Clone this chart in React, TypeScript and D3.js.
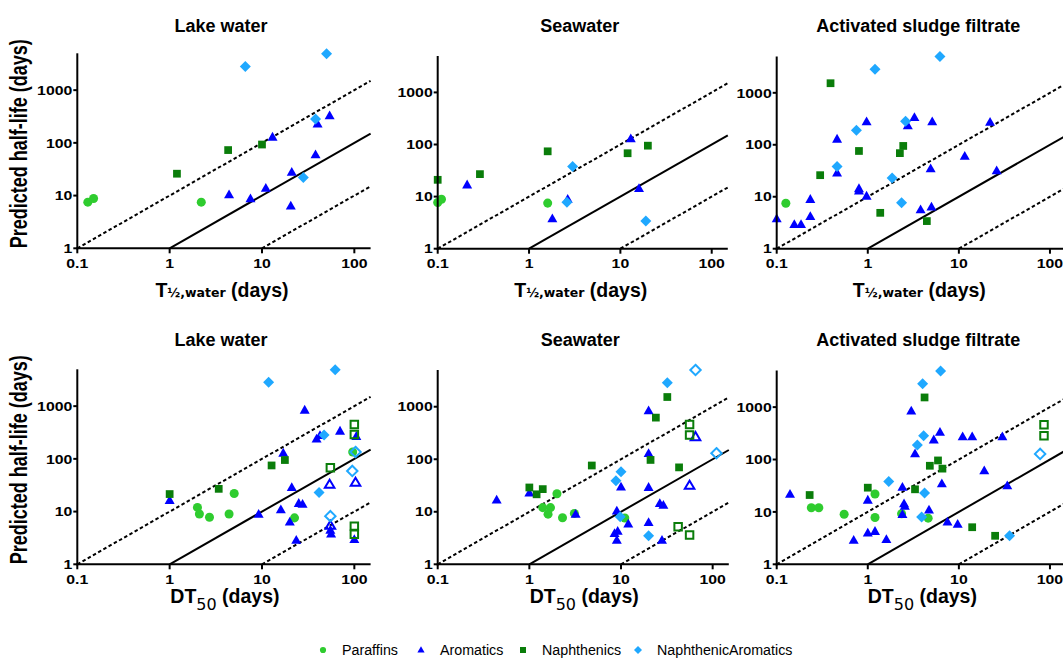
import React from 'react';
import * as d3 from 'd3';

type Pt = [number, number];

// tick values shared by all panels
const xTicks = [0.1, 1, 10, 100];
const yTicks = [1, 10, 100, 1000];
const xDomain: Pt = [0.1, 150];
const yDomain: Pt = [1, 5000];

const seriesNames = ['Paraffins', 'Aromatics', 'Naphthenics', 'NaphthenicAromatics'];
const seriesColors = ['#2fcc2f', '#0000ff', '#0a7d0a', '#1fa8ff'];

// ---- top row: T½,water (days)
const lakeT_paraffins: Pt[] = [[0.13, 7.5], [0.15, 8.8], [2.2, 7.5]];
const lakeT_aromatics: Pt[] = [[4.4, 10.5], [7.5, 8.8], [11, 14], [13, 130], [20.5, 6.4], [21, 28], [38, 60], [40, 230], [54, 330]];
const lakeT_naphthenics: Pt[] = [[1.2, 26], [4.3, 73], [10, 93]];
const lakeT_naphArom: Pt[] = [[6.6, 2800], [50, 4900], [38, 285], [28, 22]];

const seaT_paraffins: Pt[] = [[0.1, 7.7], [0.11, 8.9], [1.6, 7.5]];
const seaT_aromatics: Pt[] = [[0.21, 17], [1.8, 3.8], [2.65, 9], [13, 130], [16, 14.5]];
const seaT_naphthenics: Pt[] = [[0.1, 21], [0.29, 27], [1.6, 74], [12, 68], [20, 95]];
const seaT_naphArom: Pt[] = [[3, 38], [2.6, 7.8], [19, 3.4]];

const sludgeT_paraffins: Pt[] = [[0.126, 7.5]];
const sludgeT_aromatics: Pt[] = [
  [0.1, 3.8], [0.156, 2.95], [0.185, 2.95], [0.234, 4.2], [0.234, 9], [0.46, 130], [0.46, 29],
  [0.8, 14.5], [0.8, 13], [0.97, 10.4], [0.97, 280], [2.75, 235], [3.25, 340], [3.8, 5.7],
  [4.9, 35], [5.0, 6.4], [5.1, 280], [11.6, 61], [22, 275], [26, 32],
];
const sludgeT_naphthenics: Pt[] = [[0.39, 1530], [0.3, 26], [0.8, 76], [1.37, 4.9], [2.25, 69], [2.45, 95], [4.45, 3.4]];
const sludgeT_naphArom: Pt[] = [[1.2, 2850], [6.2, 5000], [0.75, 190], [2.6, 285], [0.46, 38], [1.85, 23], [2.35, 7.7]];

// ---- bottom row: DT50 (days); "Open" arrays are the hollow symbols
const lakeDT_paraffins: Pt[] = [[2, 12], [2.1, 9], [2.7, 7.8], [4.4, 9], [5, 22], [22.5, 7.6], [96, 135]];
const lakeDT_aromatics: Pt[] = [
  [1, 16.5], [9.2, 9], [16, 11], [17, 130], [20, 6.4], [21, 29], [23.5, 2.9], [25, 14.5], [27.5, 14],
  [29, 850], [39, 240], [42.5, 280], [70, 340], [105, 270], [55, 4.5], [56, 3.8], [100, 3.0],
];
const lakeDT_aromaticsOpen: Pt[] = [[54, 33], [103, 36], [55, 5.5]];
const lakeDT_naphthenics: Pt[] = [[1, 21.5], [3.4, 27], [12.7, 75], [17.7, 95]];
const lakeDT_naphthenicsOpen: Pt[] = [[100, 450], [100, 290], [55, 68], [100, 5.3], [100, 3.7]];
const lakeDT_naphArom: Pt[] = [[11.8, 2850], [62, 4900], [47, 285], [41.5, 23]];
const lakeDT_naphAromOpen: Pt[] = [[103, 135], [95, 59], [55, 8.2]];

const seaDT_paraffins: Pt[] = [[2, 22], [1.4, 12], [1.7, 12], [1.6, 9], [2.3, 7.7], [3.1, 9.3], [11, 7.6]];
const seaDT_aromatics: Pt[] = [
  [0.44, 17], [1, 23], [3.2, 9.1], [20, 850], [20, 130], [10, 30], [20, 29.5], [26.5, 14.5], [29, 13.5],
  [9, 10.5], [12, 5.9], [20, 6.3], [8.5, 3.9], [9.2, 4.3], [9, 2.9], [28, 2.9],
];
const seaDT_aromaticsOpen: Pt[] = [[65, 270], [56, 32]];
const seaDT_naphthenics: Pt[] = [[1, 29], [1.2, 21.5], [1.4, 27], [4.8, 76], [32, 1530], [24, 620], [21, 97], [43, 70]];
const seaDT_naphthenicsOpen: Pt[] = [[56, 460], [56, 290], [42, 5.2], [56, 3.6]];
const seaDT_naphArom: Pt[] = [[32, 2850], [10, 58], [8.8, 39], [9.8, 8], [20, 3.5]];
const seaDT_naphAromOpen: Pt[] = [[65, 5000], [110, 130]];

const sludgeDT_paraffins: Pt[] = [[0.24, 12], [0.29, 12], [0.55, 9], [1.2, 22], [1.2, 7.8], [2.35, 9.2], [4.6, 7.6]];
const sludgeDT_aromatics: Pt[] = [
  [0.14, 22], [0.7, 2.9], [1, 17], [1, 4], [1.2, 4.3], [1.6, 3], [2.4, 30], [2.5, 14.5], [2.55, 13],
  [2.4, 9], [4.7, 11], [6.5, 35], [3.3, 130], [5.3, 240], [6.2, 335], [3, 850], [11, 275], [14, 275],
  [30, 275], [19, 62], [34, 32], [7.5, 6.5], [9.7, 5.9],
];
const sludgeDT_naphthenics: Pt[] = [[0.23, 21], [1, 29], [3.3, 27], [4.8, 76], [5.9, 96], [6.6, 67], [4.2, 1530], [14, 5.1], [25, 3.5]];
const sludgeDT_naphthenicsOpen: Pt[] = [[86, 460], [86, 285]];
const sludgeDT_naphArom: Pt[] = [[1.7, 38], [3.9, 8], [4.2, 23], [3.5, 190], [4.1, 285], [4, 2800], [6.3, 4900], [36, 3.5]];
const sludgeDT_naphAromOpen: Pt[] = [[78, 128]];

// reference lines: y = k * x
const refLines = [
  { k: 10, from: 0.1, dashed: true },
  { k: 1, from: 1, dashed: false },
  { k: 0.1, from: 10, dashed: true },
];

const FONT = 'Liberation Sans, Arial, sans-serif';

// symbol paths (filled, open)
const circlePath = d3.symbol(d3.symbolCircle, 64)() as string;
const squarePath = d3.symbol(d3.symbolSquare, 60)() as string;
const trianglePath = 'M0,-5L5,3.8L-5,3.8Z';
const diamondPath = 'M0,-5.5L5.5,0L0,5.5L-5.5,0Z';
const openCirclePath = d3.symbol(d3.symbolCircle, 50)() as string;
const openSquarePath = d3.symbol(d3.symbolSquare, 56)() as string;
const openTrianglePath = 'M0,-4.6L4.8,3.6L-4.8,3.6Z';
const openDiamondPath = 'M0,-5.2L5.2,0L0,5.2L-5.2,0Z';
const filledPaths = [circlePath, trianglePath, squarePath, diamondPath];
const openPaths = [openCirclePath, openTrianglePath, openSquarePath, openDiamondPath];

type Panel = {
  title: string;
  row: 0 | 1;
  x0: number; x1: number; yTop: number; yBottom: number;
  filled: Pt[][];
  open: Pt[][];
  yLabel?: boolean;
};

const panels: Panel[] = [
  { title: 'Lake water', row: 0, x0: 77.3, x1: 370.6, yTop: 53.3, yBottom: 248.3, yLabel: true,
    filled: [lakeT_paraffins, lakeT_aromatics, lakeT_naphthenics, lakeT_naphArom], open: [[], [], [], []] },
  { title: 'Seawater', row: 0, x0: 437.7, x1: 727.8, yTop: 56, yBottom: 248.7,
    filled: [seaT_paraffins, seaT_aromatics, seaT_naphthenics, seaT_naphArom], open: [[], [], [], []] },
  { title: 'Activated sludge filtrate', row: 0, x0: 776.7, x1: 1066, yTop: 56.5, yBottom: 248.7,
    filled: [sludgeT_paraffins, sludgeT_aromatics, sludgeT_naphthenics, sludgeT_naphArom], open: [[], [], [], []] },
  { title: 'Lake water', row: 1, x0: 77.3, x1: 370.6, yTop: 369.3, yBottom: 564.3, yLabel: true,
    filled: [lakeDT_paraffins, lakeDT_aromatics, lakeDT_naphthenics, lakeDT_naphArom],
    open: [[], lakeDT_aromaticsOpen, lakeDT_naphthenicsOpen, lakeDT_naphAromOpen] },
  { title: 'Seawater', row: 1, x0: 437.7, x1: 728.8, yTop: 370, yBottom: 564.3,
    filled: [seaDT_paraffins, seaDT_aromatics, seaDT_naphthenics, seaDT_naphArom],
    open: [[], seaDT_aromaticsOpen, seaDT_naphthenicsOpen, seaDT_naphAromOpen] },
  { title: 'Activated sludge filtrate', row: 1, x0: 776.7, x1: 1066, yTop: 370.5, yBottom: 564.3,
    filled: [sludgeDT_paraffins, sludgeDT_aromatics, sludgeDT_naphthenics, sludgeDT_naphArom],
    open: [[], [], sludgeDT_naphthenicsOpen, sludgeDT_naphAromOpen] },
];

const fmt = (v: number) => (v < 1 ? String(v) : d3.format('d')(v));

const PanelView = ({ p }: { p: Panel }) => {
  const x = d3.scaleLog().domain(xDomain).range([p.x0, p.x1]);
  const y = d3.scaleLog().domain(yDomain).range([p.yBottom, p.yTop]);
  const cx = (p.x0 + p.x1) / 2 - 3;
  const line = d3.line<Pt>().x(d => x(d[0])).y(d => y(d[1]));

  return (
    <g>
      <text x={cx} y={p.row === 0 ? 32 : 346} textAnchor="middle" fontFamily={FONT} fontWeight="bold" fontSize={18}>
        {p.title}
      </text>

      {refLines.map((r, i) => (
        <path key={i} d={line([[r.from, r.from * r.k], [xDomain[1], xDomain[1] * r.k]]) as string}
          fill="none" stroke="#000" strokeWidth={2} strokeDasharray={r.dashed ? '3.5,2.5' : undefined} />
      ))}

      {p.filled.map((pts, si) => pts.map((d, j) => (
        <path key={`f${si}-${j}`} d={filledPaths[si]} transform={`translate(${x(d[0])},${y(d[1])})`}
          fill={seriesColors[si]} />
      )))}
      {p.open.map((pts, si) => pts.map((d, j) => (
        <path key={`o${si}-${j}`} d={openPaths[si]} transform={`translate(${x(d[0])},${y(d[1])})`}
          fill="none" stroke={seriesColors[si]} strokeWidth={2} />
      )))}

      {/* axes */}
      <line x1={p.x0} x2={p.x0} y1={p.yBottom + 1} y2={p.yTop} stroke="#000" strokeWidth={2} />
      <line x1={p.x0 - 1} x2={p.x1} y1={p.yBottom} y2={p.yBottom} stroke="#000" strokeWidth={2} />
      {xTicks.map(t => (
        <g key={t}>
          <line x1={x(t)} x2={x(t)} y1={p.yBottom} y2={p.yBottom + 5} stroke="#000" strokeWidth={2} />
          <text transform={`translate(${x(t)},${p.yBottom + 19.5}) scale(1.2,1)`} textAnchor="middle"
            fontFamily={FONT} fontWeight="bold" fontSize={13.2}>{fmt(t)}</text>
        </g>
      ))}
      {yTicks.map(t => (
        <g key={t}>
          <line x1={p.x0 - 4} x2={p.x0} y1={y(t)} y2={y(t)} stroke="#000" strokeWidth={2} />
          <text transform={`translate(${p.x0 - 5},${y(t) + 4.7}) scale(1.2,1)`} textAnchor="end"
            fontFamily={FONT} fontWeight="bold" fontSize={13.2}>{fmt(t)}</text>
        </g>
      ))}

      {p.row === 0 ? (
        <text x={cx + 1} y={297} textAnchor="middle" fontFamily={FONT} fontWeight="bold" fontSize={19.5}>
          T<tspan fontFamily="DejaVu Sans" fontSize={12.5}>½,water</tspan> (days)
        </text>
      ) : (
        <text x={cx + 4} y={603.3} textAnchor="middle" fontFamily={FONT} fontWeight="bold" fontSize={19.5}>
          DT<tspan fontFamily="DejaVu Sans" fontWeight="normal" fontSize={16} dy={6.7}>50</tspan>
          <tspan dy={-6.7}> (days)</tspan>
        </text>
      )}

      {p.yLabel && (
        <text transform={`translate(27,${(p.yTop + p.yBottom) / 2 - 7}) rotate(-90) scale(1,1.3)`} textAnchor="middle"
          fontFamily={FONT} fontWeight="bold" fontSize={18}>Predicted half-life (days)</text>
      )}
    </g>
  );
};

const legendX = [323, 421, 523, 638];
const legendPaths = [
  d3.symbol(d3.symbolCircle, 30)() as string,
  'M0,-3.8L3.6,2.6L-3.6,2.6Z',
  d3.symbol(d3.symbolSquare, 36)() as string,
  'M0,-4L4,0L0,4L-4,0Z',
];

const App = () => (
  <svg width={1063} height={658} style={{ display: 'block' }}>
    <style>{'body{margin:0}'}</style>
    <rect width={1063} height={658} fill="#fff" />
    {panels.map((p, i) => <PanelView key={i} p={p} />)}
    <g>
      {seriesNames.map((name, i) => (
        <g key={name}>
          <path d={legendPaths[i]} transform={`translate(${legendX[i]},650)`} fill={seriesColors[i]} />
          <text transform={`translate(${legendX[i] + 19},654.5) scale(0.92,1)`} fontFamily={FONT} fontSize={15.5}>{name}</text>
        </g>
      ))}
    </g>
  </svg>
);

export default App;
